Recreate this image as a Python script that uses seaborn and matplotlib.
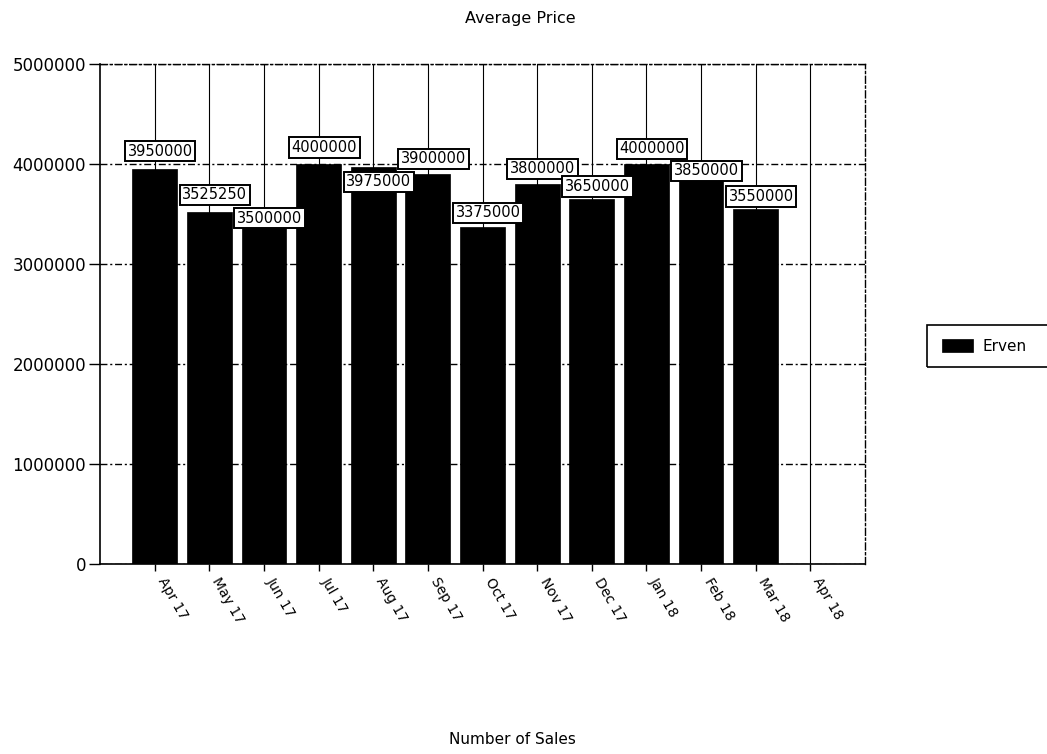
import numpy as np
import pandas as pd
import matplotlib
matplotlib.use("Agg")
import matplotlib.pyplot as plt
from matplotlib.patches import Rectangle
import seaborn as sns

# Monthly average sale price of erven
months = ["Apr 17", "May 17", "Jun 17", "Jul 17", "Aug 17", "Sep 17", "Oct 17",
          "Nov 17", "Dec 17", "Jan 18", "Feb 18", "Mar 18", "Apr 18"]
avg_price = [3950000, 3525250, 3500000, 4000000, 3975000, 3900000, 3375000,
             3800000, 3650000, 4000000, 3850000, 3550000, np.nan]
series_name = "Erven"
y_ticks = [0, 1000000, 2000000, 3000000, 4000000, 5000000]

df = pd.DataFrame({"month": months, "price": avg_price})

sns.set_style("white")
plt.rcParams["font.family"] = ["DejaVu Sans"]
plt.rcParams["text.color"] = "black"
plt.rcParams["xtick.color"] = "black"
plt.rcParams["ytick.color"] = "black"

fig = plt.figure(figsize=(10.47, 7.54), dpi=100)
ax = fig.add_axes([0.0955, 0.252, 0.7307, 0.663])

sns.barplot(data=df, x="month", y="price", color="black", saturation=1,
            width=0.82, label=series_name, ax=ax, zorder=3)
for p in ax.patches:
    p.set_edgecolor("black")
    p.set_linewidth(0.5)

ax.set_xlim(-1, len(months))
ax.set_ylim(0, 5000000)
ax.set_yticks(y_ticks)
ax.set_yticklabels([str(v) for v in y_ticks], fontsize=12)
ax.set_xlabel("")
ax.set_ylabel("")
ax.set_xticks(range(len(months)))
ax.set_xticklabels(months, rotation=-60, ha="left", va="top",
                   rotation_mode="default", fontsize=10)

ax.tick_params(axis="y", direction="out", length=8, width=1, pad=2,
               left=True, color="black", labelcolor="black")
ax.tick_params(axis="x", direction="out", length=5, width=1, pad=3,
               bottom=True, color="black", labelcolor="black")

# grid: solid verticals at each month, dash-dot horizontals at each tick
ax.set_axisbelow(True)
ax.xaxis.grid(True, color="black", linewidth=0.8, linestyle="-", zorder=0)
ax.yaxis.grid(True, color="black", linewidth=1.0,
              linestyle=(0, (5, 2, 1.5, 2)), zorder=0)

for side in ("left", "bottom"):
    ax.spines[side].set_color("black")
    ax.spines[side].set_linewidth(1.2)
for side in ("top", "right"):
    ax.spines[side].set_visible(True)
    ax.spines[side].set_color("black")
    ax.spines[side].set_linewidth(1.0)
    ax.spines[side].set_linestyle((0, (5, 2, 1.5, 2)))

# value tags, staggered so neighbouring boxes stay readable
tag_dy = [13, 12, -3, 12, -11, 11, 10, 11, 9, 11, 6, 9]
for i, (v, dy) in enumerate(zip(avg_price, tag_dy)):
    if np.isnan(v):
        continue
    ax.annotate(str(int(v)), xy=(i, v), xytext=(4, dy), textcoords="offset points",
                ha="center", va="center", fontsize=10.5, color="black", zorder=5,
                bbox=dict(boxstyle="square,pad=0.18", facecolor="white",
                          edgecolor="black", linewidth=1.4))

# legend: entry without frame, plus a wide box that runs off the right edge
leg = ax.legend(loc="upper left", bbox_to_anchor=(0.888, 0.567),
                bbox_transform=fig.transFigure, frameon=False,
                fontsize=11, handlelength=2.0, handleheight=0.85,
                borderpad=0.3, handletextpad=0.65)
fig.patches.append(Rectangle((0.8854, 0.5133), 0.2, 0.0557,
                             transform=fig.transFigure, facecolor="none",
                             edgecolor="black", linewidth=1.2))

fig.text(0.497, 0.975, "Average Price", ha="center", va="center", fontsize=11.5)
fig.text(0.489, 0.019, "Number of Sales", ha="center", va="center", fontsize=11)

fig.savefig("out.png", dpi=100, facecolor="white")
